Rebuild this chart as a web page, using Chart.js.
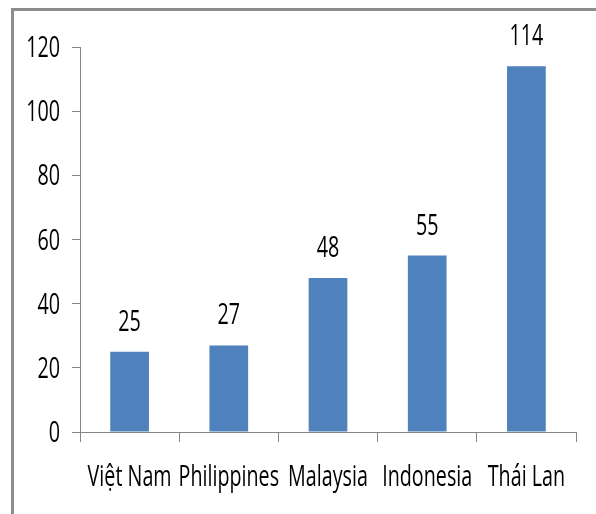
<!DOCTYPE html>
<html>
<head>
<meta charset="utf-8">
<script src="https://cdn.jsdelivr.net/npm/chart.js@4"></script>
<style>
  html, body { margin: 0; padding: 0; background: #fff; overflow: hidden; }
  #wrap { position: relative; width: 596px; height: 514px; }
  #frame { position: absolute; left: 11px; top: 8px; width: 700px; height: 700px; border: 3px solid #8c8c8c; box-sizing: border-box; }
  canvas { position: absolute; left: 0; top: 0; }
</style>
</head>
<body>
<div id="wrap">
  <div id="frame"></div>
  <canvas id="myChart" width="596" height="514"></canvas>
</div>
<script>
const countries = ['Việt Nam', 'Philippines', 'Malaysia', 'Indonesia', 'Thái Lan'];
const values = [25, 27, 48, 55, 114];
const yTicks = [0, 20, 40, 60, 80, 100, 120];

// the original uses a narrow face, so squeeze a normal one
const textFont = '29px "Open Sans", "Noto Sans", sans-serif';
const squeeze = 0.68;

function narrowText(ctx, text, x, y, align) {
    ctx.save();
    ctx.translate(x, y);
    ctx.scale(squeeze, 1);
    ctx.textAlign = align;
    ctx.textBaseline = 'alphabetic';
    ctx.fillText(text, 0, 0);
    ctx.restore();
}

// tick labels + numbers above bars
const narrowLabels = {
    id: 'narrowLabels',
    afterDraw(chart) {
        const ctx = chart.ctx;
        const xs = chart.scales.x;
        const ys = chart.scales.y;
        ctx.save();
        ctx.font = textFont;
        ctx.fillStyle = '#000';
        yTicks.forEach(v => {
            narrowText(ctx, String(v), ys.left + 60, ys.getPixelForValue(v) + 10, 'right');
        });
        countries.forEach((c, i) => {
            narrowText(ctx, c, xs.getPixelForValue(i), xs.top + 54, 'center');
        });
        chart.getDatasetMeta(0).data.forEach((bar, i) => {
            narrowText(ctx, String(values[i]), bar.x, bar.y - 21, 'center');
        });
        ctx.restore();
    }
};

const ctx = document.getElementById('myChart');
new Chart(ctx, {
    type: 'bar',
    data: {
        labels: countries,
        datasets: [{
            data: values,
            backgroundColor: '#4f81bd',
            borderWidth: 0,
            categoryPercentage: 1,
            barPercentage: 0.39
        }]
    },
    options: {
        responsive: false,
        animation: false,
        layout: { padding: { left: 0, right: 20, top: 47, bottom: 0 } },
        plugins: {
            legend: { display: false },
            tooltip: { enabled: false }
        },
        scales: {
            y: {
                min: 0,
                max: 120,
                afterFit(scale) { scale.width = 80; },
                afterBuildTicks(scale) { scale.ticks = yTicks.map(v => ({ value: v })); },
                border: { color: '#868686', width: 1 },
                grid: { drawOnChartArea: false, tickLength: 8, color: '#868686' },
                ticks: { display: false }
            },
            x: {
                afterFit(scale) { scale.height = 82; },
                border: { color: '#868686', width: 1 },
                grid: { drawOnChartArea: false, tickLength: 10, color: '#868686', offset: true },
                ticks: { display: false, autoSkip: false }
            }
        }
    },
    plugins: [narrowLabels]
});
</script>
</body>
</html>
